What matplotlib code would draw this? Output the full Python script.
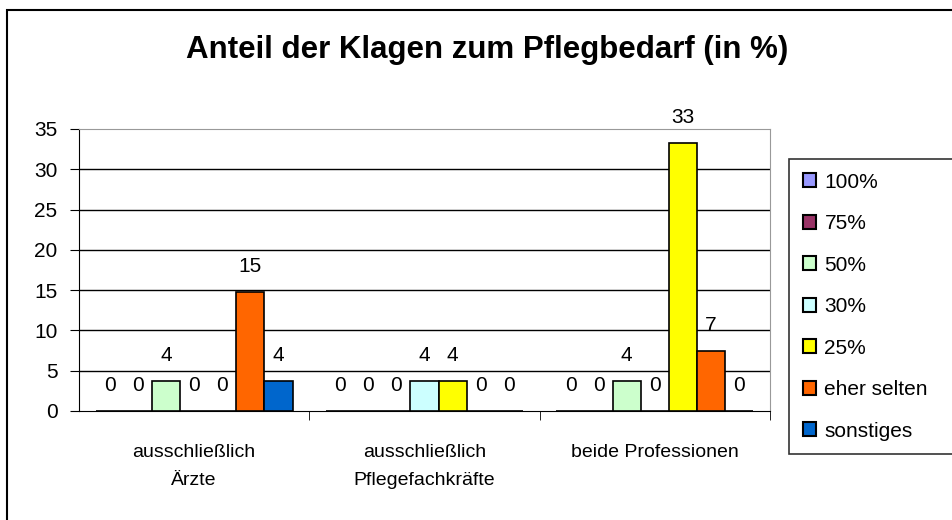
import numpy as np
import matplotlib.pyplot as plt
from matplotlib.patches import Rectangle

plt.rcParams['font.family'] = ['Liberation Sans', 'DejaVu Sans']

categories = ['ausschließlich\nÄrzte', 'ausschließlich\nPflegefachkräfte', 'beide Professionen']
series = ['100%', '75%', '50%', '30%', '25%', 'eher selten', 'sonstiges']
colors = ['#9999FF', '#993366', '#CCFFCC', '#CCFFFF', '#FFFF00', '#FF6600', '#0066CC']
values = [
    [0, 0, 0],        # 100%
    [0, 0, 0],        # 75%
    [3.7, 0, 3.7],    # 50%
    [0, 3.7, 0],      # 30%
    [0, 3.7, 33.3],   # 25%
    [14.8, 0, 7.4],   # eher selten
    [3.7, 0, 0],      # sonstiges
]

fig = plt.figure(figsize=(9.52, 5.2), dpi=100)
ax = fig.add_axes([79/952, 1-411/520, 691/952, 282/520])

x = np.arange(len(categories))
w = 0.122
for i, (name, col, vals) in enumerate(zip(series, colors, values)):
    pos = x + (i - 3) * w
    ax.bar(pos, vals, width=w, color=col, edgecolor='black', linewidth=1.2, label=name, zorder=3)
    for p, v in zip(pos, vals):
        ax.annotate('%.0f' % v, (p, v), xytext=(0, 18.5), textcoords='offset points',
                    ha='center', va='center', fontsize=15, zorder=4)

ax.set_xlim(-0.5, 2.5)
ax.set_ylim(0, 35)
ax.set_yticks(range(0, 36, 5))
ax.set_xticks(x)
ax.set_xticklabels(categories, fontsize=14, linespacing=1.85)
ax.set_xticks([0.5, 1.5, 2.5], minor=True)
ax.tick_params(axis='x', which='major', length=0, pad=24)
ax.tick_params(axis='x', which='minor', length=6.5, direction='out')
ax.tick_params(axis='y', labelsize=15, length=6.5, direction='out', pad=9)
for yv in range(5, 35, 5):
    ax.axhline(yv, color='black', linewidth=1, zorder=1)
ax.spines['top'].set_color('#999999')
ax.spines['right'].set_color('#999999')
ax.spines['left'].set_color('black')
ax.spines['bottom'].set_color('black')

fig.text(487/952, 1-58/520, 'Anteil der Klagen zum Pflegbedarf (in %)', ha='center', va='baseline',
         fontsize=22.5, fontweight='bold')

leg = ax.legend(loc='upper left', bbox_to_anchor=(789/952, 1-159/520, 200/952, 0.0),
                bbox_transform=fig.transFigure, mode='expand',
                fontsize=15, frameon=True, fancybox=False, edgecolor='black', borderaxespad=0,
                handlelength=0.65, handleheight=0.65, handletextpad=0.4, labelspacing=1.08,
                borderpad=0.65)
leg.get_frame().set_linewidth(1.2)
for h in leg.legend_handles:
    h.set_linewidth(1.5)

fig.patches.append(Rectangle((6.5/952, -0.1), 1.0, 1 - 10/520 + 0.1, transform=fig.transFigure,
                             fill=False, edgecolor='black', linewidth=1.5))

fig.savefig('out.png', dpi=100)
